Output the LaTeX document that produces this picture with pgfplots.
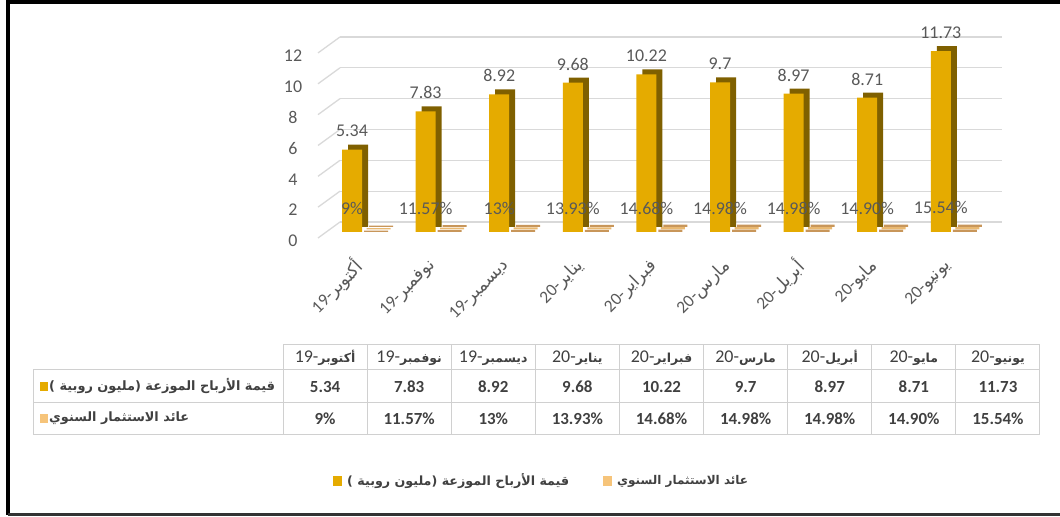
\documentclass[border=0pt]{standalone}
\usepackage{pgfplots}
\pgfplotsset{compat=1.18}
\usepackage{fontspec}
\setmainfont{Carlito}
\newfontfamily\arabicfont[Script=Arabic]{DejaVu Sans}
\TeXXeTstate=1
\newcommand\ar[1]{{\arabicfont\beginR #1\endR}}
\newcommand\ars[1]{{\arabicfont\bfseries\fontsize{12.5}{15}\selectfont\beginR #1\endR}}
\newcommand\lblfont{\arabicfont\bfseries\fontsize{15}{17}\selectfont}
\definecolor{gold}{HTML}{E5AB00}
\definecolor{golddark}{HTML}{7F6000}
\definecolor{lightor}{HTML}{F6C47A}
\definecolor{slab}{HTML}{E9B870}
\definecolor{slabdark}{HTML}{C8965A}
\definecolor{txt}{HTML}{595959}
\definecolor{gridc}{HTML}{D9D9D9}
\definecolor{tbl}{HTML}{D0D0D0}
\definecolor{tbltxt}{HTML}{404040}
\begin{document}
\begin{tikzpicture}
\useasboundingbox (0bp,0bp) rectangle (1060bp,517bp);
% grid axis (back wall)
\begin{axis}[at={(340bp,295bp)}, anchor=south west, width=662bp, height=185.04bp, scale only axis,
  xmin=0, xmax=1, ymin=0, ymax=12, ytick={0,2,...,12}, xtick=\empty,
  ymajorgrids, grid style={gridc, line width=1.3bp},
  axis line style={draw=none}, major tick length=0pt,
  yticklabel style={anchor=center, xshift=-47bp, yshift=-19bp, text=txt, font=\fontsize{18}{20}\selectfont},
  /pgf/number format/assume math mode=true, clip=false]
\pgfplotsinvokeforeach{0,2,...,12}{\draw[gridc, line width=1.3bp] (axis cs:0,#1) -- ++(-22bp,-16bp);}
\addplot[draw=none] coordinates {(0,0)};
\end{axis}
% bars axis
\begin{axis}[at={(315.2bp,285bp)}, anchor=south west, width=662.4bp, height=192.75bp, scale only axis,
  xmin=-0.5, xmax=8.5, ymin=0, ymax=12.5,
  axis line style={draw=none}, major tick length=0pt, ytick=\empty,
  xtick={0,...,8},
  xticklabels={{19-\ar{أكتوبر}},{19-\ar{نوفمبر}},{19-\ar{ديسمبر}},{20-\ar{يناير}},{20-\ar{فبراير}},{20-\ar{مارس}},{20-\ar{أبريل}},{20-\ar{مايو}},{20-\ar{يونيو}}},
  xticklabel style={xshift=10bp, yshift=-29bp, rotate=45, anchor=east, text=txt, font=\fontsize{17.5}{19}\selectfont},
  clip=false]
\addplot[ybar, bar width=20bp, bar shift=0bp, fill=golddark, draw=none, xshift=6bp, yshift=5bp]
 coordinates {(0,5.34) (1,7.83) (2,8.92) (3,9.68) (4,10.22) (5,9.7) (6,8.97) (7,8.71) (8,11.73)};
\addplot[ybar, bar width=20bp, bar shift=0bp, fill=gold, draw=none,
  nodes near coords, point meta=explicit symbolic,
  nodes near coords style={anchor=south, yshift=9bp, text=txt, font=\fontsize{18}{20}\selectfont}]
 coordinates {(0,5.34) [5.34] (1,7.83) [7.83] (2,8.92) [8.92] (3,9.68) [9.68] (4,10.22) [10.22] (5,9.7) [9.7] (6,8.97) [8.97] (7,8.71) [8.71] (8,11.73) [11.73]};
\addplot[ybar, bar width=24bp, bar shift=24bp, fill=slabdark, draw=none, xshift=5bp, yshift=5bp]
 coordinates {(0,0.09) (1,0.1157) (2,0.13) (3,0.1393) (4,0.1468) (5,0.1498) (6,0.1498) (7,0.149) (8,0.1554)};
\addplot[ybar, bar width=24bp, bar shift=24bp, fill=slab, draw=none, xshift=2.5bp, yshift=2.5bp]
 coordinates {(0,0.09) (1,0.1157) (2,0.13) (3,0.1393) (4,0.1468) (5,0.1498) (6,0.1498) (7,0.149) (8,0.1554)};
\addplot[ybar, bar width=24bp, bar shift=24bp, fill=slabdark, draw=none,
  nodes near coords, point meta=explicit symbolic,
  nodes near coords style={anchor=south, yshift=12bp, text=txt, font=\fontsize{18}{20}\selectfont}]
 coordinates {(0,0.09) [9\%] (1,0.1157) [11.57\%] (2,0.13) [13\%] (3,0.1393) [13.93\%] (4,0.1468) [14.68\%] (5,0.1498) [14.98\%] (6,0.1498) [14.98\%] (7,0.149) [14.90\%] (8,0.1554) [15.54\%]};
\end{axis}
% table and legend (y measured downward)
\begin{scope}[x=1bp, y=-1bp, shift={(0bp,517bp)}]
  \draw[tbl, line width=1bp] (283,345) -- (1040,345);
  \draw[tbl, line width=1bp] (33,370) -- (1040,370);
  \draw[tbl, line width=1bp] (33,403) -- (1040,403);
  \draw[tbl, line width=1bp] (33,435) -- (1040,435);
  \draw[tbl, line width=1bp] (33,370) -- (33,435);
  \foreach \i in {0,...,9} {\draw[tbl, line width=1bp] ({283+84.11*\i},345) -- ({283+84.11*\i},435);}
  \foreach \lab [count=\i from 0] in {{19-\ars{أكتوبر}},{19-\ars{نوفمبر}},{19-\ars{ديسمبر}},{20-\ars{يناير}},{20-\ars{فبراير}},{20-\ars{مارس}},{20-\ars{أبريل}},{20-\ars{مايو}},{20-\ars{يونيو}}}
    {\node[text=tbltxt, font=\fontsize{18}{20}\selectfont] at ({283+84.11*(\i+0.5)},358) {\lab};}
  \foreach \v [count=\i from 0] in {5.34,7.83,8.92,9.68,10.22,9.7,8.97,8.71,11.73}
    {\node[text=tbltxt, font=\bfseries\fontsize{17}{19}\selectfont] at ({283+84.11*(\i+0.5)},387) {\v};}
  \foreach \v [count=\i from 0] in {9\%,11.57\%,13\%,13.93\%,14.68\%,14.98\%,14.98\%,14.90\%,15.54\%}
    {\node[text=tbltxt, font=\bfseries\fontsize{17}{19}\selectfont] at ({283+84.11*(\i+0.5)},419) {\v};}
  \fill[gold] (40,382) rectangle (48,391);
  \node[anchor=west, text=tbltxt, inner sep=0pt] at (49,386) {\resizebox{226bp}{!}{\lblfont\beginR قيمة الأرباح الموزعة (مليون روبية )\endR}};
  \fill[lightor] (40,414) rectangle (48,423);
  \node[anchor=west, text=tbltxt, inner sep=0pt] at (49,418) {\resizebox{140bp}{!}{\lblfont\beginR عائد الاستثمار السنوي\endR}};
  % legend
  \fill[gold] (333,476) rectangle (342,486);
  \node[anchor=west, text=tbltxt, inner sep=0pt] at (347,481) {\resizebox{222bp}{!}{\lblfont\beginR قيمة الأرباح الموزعة (مليون روبية )\endR}};
  \fill[lightor] (603,476) rectangle (612,486);
  \node[anchor=west, text=tbltxt, inner sep=0pt] at (617,481) {\resizebox{131bp}{!}{\lblfont\beginR عائد الاستثمار السنوي\endR}};
  % frame
  \draw[black, line width=4bp] (8,515) -- (8,2) -- (1060,2);
  \draw[black!80, line width=3bp] (8,515) -- (1060,515);
\end{scope}
\end{tikzpicture}
\end{document}
